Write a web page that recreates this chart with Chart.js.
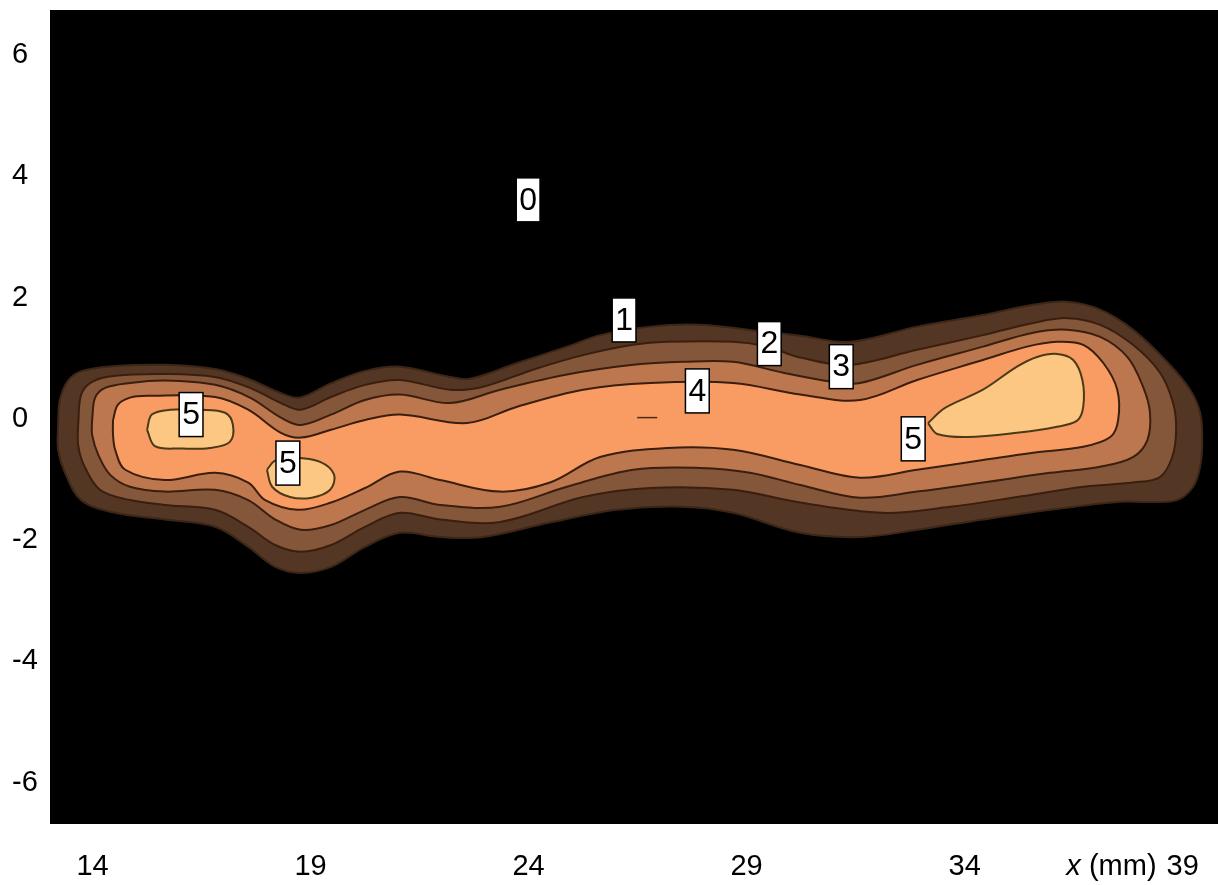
<!DOCTYPE html>
<html>
<head>
<meta charset="utf-8">
<script src="https://cdn.jsdelivr.net/npm/chart.js@4.4.1/dist/chart.umd.min.js"></script>
<style>
  html, body { margin: 0; padding: 0; background: #ffffff; }
  #wrap { width: 1218px; height: 885px; }
</style>
</head>
<body>
<div id="wrap"><canvas id="c" width="1218" height="885"></canvas></div>
<script>
// Axis ticks (mm)
const xTicks = [14, 19, 24, 29, 34, 39];
const yTicks = [-6, -4, -2, 0, 2, 4, 6];

// Closed iso-level outlines, [x, y] in mm
const level1 = [
  [13.21,-0.10],[13.25,0.31],[13.44,0.63],[13.76,0.79],[14.52,0.87],[15.66,0.89],[16.81,0.82],
  [17.57,0.66],[18.30,0.43],[18.76,0.35],[19.45,0.58],[20.25,0.79],[21.05,0.86],[22.20,0.69],
  [22.66,0.66],[23.74,0.92],[24.88,1.19],[25.64,1.38],[26.79,1.52],[27.93,1.55],[29.47,1.43],
  [30.23,1.37],[31.37,1.27],[32.91,1.52],[34.42,1.71],[35.57,1.88],[36.35,1.93],[37.11,1.80],
  [37.86,1.47],[38.64,0.94],[39.17,0.48],[39.40,0.10],[39.45,-0.35],[39.40,-0.79],[39.24,-1.12],
  [38.87,-1.34],[38.25,-1.37],[37.50,-1.37],[35.96,-1.50],[34.42,-1.66],[32.91,-1.83],[31.60,-1.95],
  [30.23,-1.88],[28.69,-1.55],[27.54,-1.45],[26.03,-1.50],[24.49,-1.71],[22.96,-1.95],[21.97,-1.95],
  [21.05,-1.88],[20.25,-2.11],[19.47,-2.44],[18.78,-2.54],[18.19,-2.44],[17.57,-2.11],[16.81,-1.78],
  [15.66,-1.66],[14.52,-1.55],[13.74,-1.34],[13.37,-0.89],[13.21,-0.51]
];
const level2 = [
  [13.67,-0.10],[13.74,0.40],[13.99,0.61],[14.52,0.71],[15.66,0.74],[16.81,0.69],[17.61,0.51],
  [18.32,0.26],[18.78,0.15],[19.47,0.36],[20.25,0.56],[21.05,0.64],[22.20,0.48],[22.96,0.53],
  [24.10,0.81],[25.25,1.05],[26.40,1.22],[27.18,1.27],[28.69,1.27],[29.47,1.19],[30.23,1.01],
  [31.37,0.89],[32.91,1.14],[34.42,1.38],[35.57,1.58],[36.35,1.66],[37.11,1.55],[37.86,1.22],
  [38.48,0.76],[38.78,0.26],[38.85,-0.18],[38.76,-0.63],[38.48,-0.96],[37.86,-1.05],[36.72,-1.12],
  [35.20,-1.29],[33.67,-1.45],[32.13,-1.55],[30.23,-1.38],[28.69,-1.17],[26.79,-1.14],[25.25,-1.29],
  [23.35,-1.70],[21.97,-1.66],[21.05,-1.55],[20.25,-1.78],[19.47,-2.08],[18.78,-2.19],[18.19,-2.08],
  [17.57,-1.78],[16.81,-1.50],[15.66,-1.42],[14.86,-1.34],[14.17,-1.17],[13.80,-0.76],[13.67,-0.43]
];
const level3 = [
  [13.99,-0.02],[14.06,0.35],[14.29,0.51],[14.86,0.59],[15.66,0.63],[16.81,0.56],[17.61,0.35],
  [18.32,0.02],[18.78,-0.10],[19.47,0.07],[20.25,0.31],[21.05,0.40],[22.20,0.26],[23.35,0.48],
  [24.88,0.73],[26.40,0.89],[27.54,0.94],[28.69,0.94],[29.84,0.76],[30.98,0.61],[31.60,0.59],
  [32.91,0.89],[34.42,1.19],[35.57,1.42],[36.35,1.47],[37.11,1.35],[37.73,1.02],[38.09,0.53],
  [38.25,0.10],[38.19,-0.35],[37.86,-0.63],[37.11,-0.79],[35.96,-0.89],[34.42,-1.05],[32.91,-1.20],
  [31.60,-1.30],[30.23,-1.09],[29.08,-0.89],[27.93,-0.81],[26.40,-0.84],[24.88,-1.12],[23.35,-1.45],
  [21.97,-1.42],[21.05,-1.29],[20.25,-1.50],[19.47,-1.75],[18.78,-1.83],[18.19,-1.66],[17.57,-1.34],
  [16.81,-1.17],[15.66,-1.20],[14.86,-1.12],[14.40,-0.92],[14.13,-0.59],[13.99,-0.26]
];
const level4 = [
  [14.47,-0.02],[14.58,0.23],[14.86,0.35],[15.27,0.38],[16.81,0.36],[17.57,0.15],[18.32,-0.23],
  [18.78,-0.31],[19.47,-0.18],[20.25,-0.02],[21.05,0.07],[22.59,-0.07],[23.74,0.20],[25.25,0.48],
  [26.79,0.59],[28.69,0.59],[30.23,0.40],[31.60,0.31],[32.91,0.64],[34.42,0.97],[35.43,1.19],
  [36.12,1.27],[36.72,1.22],[37.18,0.92],[37.50,0.48],[37.52,-0.02],[37.34,-0.30],[36.72,-0.46],
  [35.57,-0.56],[34.42,-0.68],[32.91,-0.84],[31.60,-0.97],[30.23,-0.76],[28.69,-0.51],[27.18,-0.48],
  [25.64,-0.63],[24.49,-1.05],[23.35,-1.20],[21.97,-1.01],[21.05,-0.87],[20.25,-1.14],[19.47,-1.38],
  [18.71,-1.50],[17.96,-1.34],[17.57,-1.05],[16.81,-0.89],[15.66,-1.01],[14.75,-0.84],[14.52,-0.51],
  [14.47,-0.26]
];
// three separate level-5 islands
const level5a = [
  [15.25,-0.18],[15.36,0.07],[15.78,0.15],[16.47,0.15],[17.04,0.10],[17.22,-0.10],[17.15,-0.38],
  [16.69,-0.48],[16.01,-0.49],[15.43,-0.45]
];
const level5b = [
  [18.00,-0.84],[18.19,-0.69],[18.64,-0.64],[19.22,-0.71],[19.54,-0.92],[19.45,-1.17],[19.03,-1.30],
  [18.53,-1.29],[18.12,-1.12]
];
const level5c = [
  [33.16,-0.07],[33.55,0.18],[34.42,0.48],[35.20,0.86],[35.66,1.02],[36.12,1.07],[36.49,0.97],
  [36.70,0.64],[36.72,0.20],[36.58,-0.03],[36.12,-0.13],[35.20,-0.23],[34.06,-0.30],[33.37,-0.25]
];
// short stray segment inside level 4
const stroke4 = [[26.49,0.02],[26.95,0.02]];

// Inline level labels
const labelLevels = [0, 1, 2, 3, 4, 5, 5, 5];
const labelX = [23.99, 26.19, 29.52, 31.17, 27.87, 16.26, 18.48, 32.82];
const labelY = [3.61, 1.63, 1.24, 0.86, 0.46, 0.07, -0.73, -0.33];

const FONT = '"Liberation Sans", Arial, sans-serif';

function closed(pts) {
  return pts.concat([pts[0]]).map(p => ({ x: p[0], y: p[1] }));
}
function region(pts, fillColor, lineColor, lineWidth, order) {
  return {
    data: closed(pts),
    backgroundColor: fillColor,
    borderColor: lineColor,
    borderWidth: lineWidth,
    fill: 'shape',
    tension: 0.35,
    pointRadius: 0,
    order: order
  };
}

const plotBackground = {
  id: 'plotBackground',
  beforeDraw(chart) {
    const { ctx, chartArea: a } = chart;
    ctx.save();
    ctx.fillStyle = '#000000';
    ctx.fillRect(a.left, a.top, a.right - a.left, a.bottom - a.top);
    ctx.restore();
  }
};

const levelLabels = {
  id: 'levelLabels',
  afterDatasetsDraw(chart) {
    const { ctx, scales } = chart;
    ctx.save();
    ctx.font = '32px ' + FONT;
    ctx.textAlign = 'center';
    ctx.textBaseline = 'middle';
    labelLevels.forEach((lv, i) => {
      const px = scales.x.getPixelForValue(labelX[i]);
      const py = scales.y.getPixelForValue(labelY[i]);
      const t = String(lv);
      const w = ctx.measureText(t).width + 6;
      const h = 44;
      ctx.fillStyle = '#ffffff';
      ctx.fillRect(px - w / 2, py - h / 2, w, h);
      ctx.strokeStyle = '#000000';
      ctx.lineWidth = 1.5;
      ctx.strokeRect(px - w / 2, py - h / 2, w, h);
      ctx.fillStyle = '#000000';
      ctx.fillText(t, px, py + 1);
    });
    ctx.restore();
  }
};

const axisTitle = {
  id: 'axisTitle',
  afterDraw(chart) {
    const { ctx, scales } = chart;
    const xs = scales.x;
    const last = xTicks[xTicks.length - 1];
    const px = xs.getPixelForValue(last);
    ctx.save();
    ctx.font = '29px ' + FONT;
    const halfLast = ctx.measureText(String(last)).width / 2;
    const yMid = xs.top + 43;
    ctx.textBaseline = 'middle';
    ctx.textAlign = 'right';
    ctx.fillStyle = '#000000';
    let right = px - halfLast - 10;
    ctx.fillText('(mm)', right, yMid);
    right -= ctx.measureText('(mm)').width + ctx.measureText(' ').width;
    ctx.font = 'italic 29px ' + FONT;
    ctx.fillText('x', right, yMid);
    ctx.restore();
  }
};

function noEdgePadding(scale) {
  scale.paddingTop = 0;
  scale.paddingBottom = 0;
  scale.paddingLeft = 0;
  scale.paddingRight = 0;
}

new Chart(document.getElementById('c'), {
  type: 'line',
  data: {
    datasets: [
      region(level1, '#543624', '#3c2617', 2, 10),
      region(level2, '#85573a', '#3a1e0e', 2, 9),
      region(level3, '#bd774e', '#3a1e0e', 2, 8),
      region(level4, '#f99c63', '#3a1e0e', 2, 7),
      region(level5a, '#fcc782', '#4a3a18', 2, 6),
      region(level5b, '#fcc782', '#4a3a18', 2, 6),
      region(level5c, '#fcc782', '#4a3a18', 2, 6),
      {
        data: stroke4.map(p => ({ x: p[0], y: p[1] })),
        borderColor: '#4a2a14',
        borderWidth: 1.5,
        fill: false,
        pointRadius: 0,
        order: 5
      }
    ]
  },
  options: {
    responsive: false,
    animation: false,
    devicePixelRatio: 1,
    layout: { padding: { left: 12, top: 10, right: 0, bottom: 0 } },
    plugins: { legend: { display: false }, tooltip: { enabled: false } },
    scales: {
      x: {
        type: 'linear',
        min: 13.025,
        max: 39.81,
        grid: { display: false, drawTicks: false },
        border: { display: false },
        afterBuildTicks(scale) { scale.ticks = xTicks.map(v => ({ value: v })); },
        afterFit(scale) { scale.height = 61; noEdgePadding(scale); },
        ticks: {
          autoSkip: false,
          maxRotation: 0,
          padding: 26,
          color: '#000000',
          font: { family: FONT, size: 29 },
          callback: v => String(v)
        }
      },
      y: {
        type: 'linear',
        min: -6.68,
        max: 6.74,
        grid: { display: false, drawTicks: false },
        border: { display: false },
        afterBuildTicks(scale) { scale.ticks = yTicks.map(v => ({ value: v })); },
        afterFit(scale) { scale.width = 38; noEdgePadding(scale); },
        ticks: {
          autoSkip: false,
          crossAlign: 'far',
          padding: 0,
          color: '#000000',
          font: { family: FONT, size: 29 },
          callback: v => String(v)
        }
      }
    }
  },
  plugins: [plotBackground, levelLabels, axisTitle]
});
</script>
</body>
</html>
